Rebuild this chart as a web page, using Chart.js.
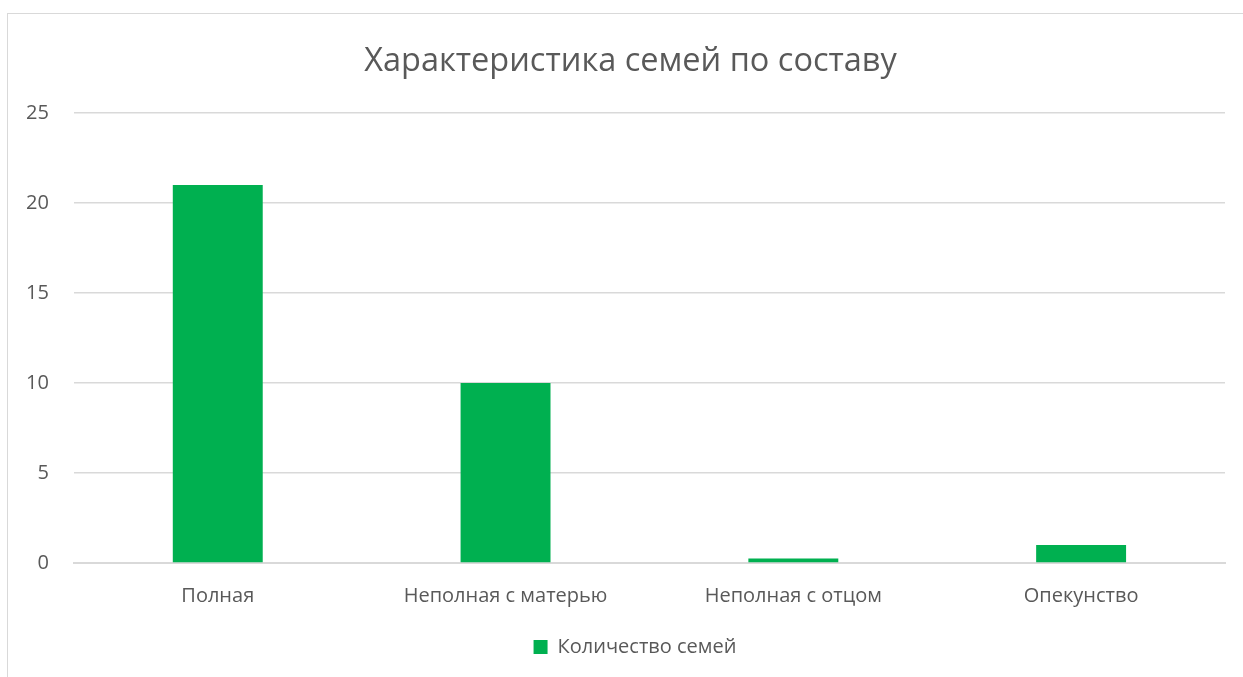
<!DOCTYPE html>
<html>
<head>
<meta charset="utf-8">
<script src="https://cdn.jsdelivr.net/npm/chart.js@4"></script>
<style>
    html, body { margin: 0; padding: 0; background: #fff; overflow: hidden; }
    .frame { position: absolute; left: 7px; top: 13px; width: 1260px; height: 700px; border: 1px solid #d9d9d9; }
    #chart { position: absolute; left: 0; top: 0; }
</style>
</head>
<body>
<div class="frame"></div>
<canvas id="chart" width="1243" height="677"></canvas>
<script>
// данные диаграммы
const categories = ['Полная', 'Неполная с матерью', 'Неполная с отцом', 'Опекунство'];
const families = [21, 10, 0.25, 1];
const seriesName = 'Количество семей';
const chartTitle = 'Характеристика семей по составу';

const textColor = '#595959';
const gridColor = '#d9d9d9';
const font = '"Open Sans", "Noto Sans", sans-serif';

// заголовок и легенда в оригинале стоят по центру рамки, а не всего холста
const shiftBlocks = {
    id: 'shiftBlocks',
    afterLayout(chart) {
        const t = chart.titleBlock;
        if (t) { t.left += 35; t.width -= 35; }
        const l = chart.legend;
        if (l) { l.left += 44; l.width -= 44; }
    }
};

new Chart(document.getElementById('chart').getContext('2d'), {
    type: 'bar',
    data: {
        labels: categories,
        datasets: [{
            label: seriesName,
            data: families,
            backgroundColor: '#00b050',
            categoryPercentage: 1,
            barPercentage: 0.3125
        }]
    },
    options: {
        responsive: false,
        animation: false,
        layout: { padding: { left: 1, right: 18, top: 0, bottom: 10 } },
        plugins: {
            title: {
                display: true,
                text: chartTitle,
                color: textColor,
                font: { family: font, size: 32.5, weight: 'normal' },
                padding: { top: 42, bottom: 32 }
            },
            legend: {
                position: 'bottom',
                labels: {
                    color: textColor,
                    font: { family: font, size: 20 },
                    boxWidth: 14,
                    boxHeight: 14,
                    padding: 8
                }
            },
            tooltip: { enabled: false }
        },
        scales: {
            x: {
                grid: { display: false, drawTicks: false },
                border: { color: gridColor, width: 2 },
                ticks: { color: textColor, font: { family: font, size: 20 }, padding: 21 }
            },
            y: {
                min: 0,
                max: 25,
                grid: { color: gridColor, lineWidth: 1.5, drawTicks: false },
                border: { display: false },
                ticks: { stepSize: 5, color: textColor, font: { family: font, size: 20 }, padding: 25 }
            }
        }
    },
    plugins: [shiftBlocks]
});
</script>
</body>
</html>
